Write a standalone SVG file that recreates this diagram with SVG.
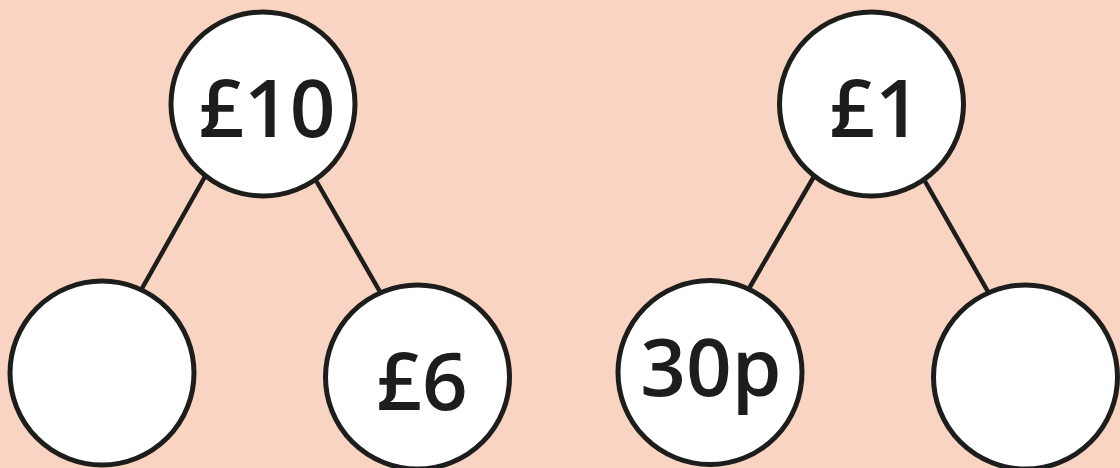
<svg xmlns="http://www.w3.org/2000/svg" width="1120" height="468" viewBox="0 0 1120 468">
  <style>
    .node { fill: #FFFFFF; stroke: #1D1D1B; stroke-width: 5; }
    .edge { stroke: #1D1D1B; stroke-width: 4.5; fill: none; }
    .label { font-family: "Open Sans", "Liberation Sans", sans-serif; font-weight: 600; font-size: 80px; fill: #1D1D1B; text-anchor: middle; }
  </style>
  <rect x="0" y="0" width="1120" height="468" fill="#FAD4C3"/>
  <g id="connectors">
    <line class="edge" x1="207" y1="173" x2="140" y2="292"/>
    <line class="edge" x1="314" y1="177" x2="383" y2="297"/>
    <line class="edge" x1="816" y1="173" x2="747" y2="292"/>
    <line class="edge" x1="922" y1="176" x2="991" y2="297"/>
  </g>
  <g id="node-10">
    <circle class="node" cx="263" cy="104" r="92"/>
    <text class="label" x="267" y="137">£10</text>
  </g>
  <g id="node-left-empty">
    <circle class="node" cx="102" cy="373" r="92"/>
  </g>
  <g id="node-6">
    <circle class="node" cx="417.5" cy="377" r="92"/>
    <text class="label" x="422" y="410">£6</text>
  </g>
  <g id="node-1">
    <circle class="node" cx="871.5" cy="104" r="92"/>
    <text class="label" x="875" y="137">£1</text>
  </g>
  <g id="node-30p">
    <circle class="node" cx="710" cy="372.5" r="92"/>
    <text class="label" x="711" y="396">30p</text>
  </g>
  <g id="node-right-empty">
    <circle class="node" cx="1025.5" cy="377" r="92"/>
  </g>
</svg>
